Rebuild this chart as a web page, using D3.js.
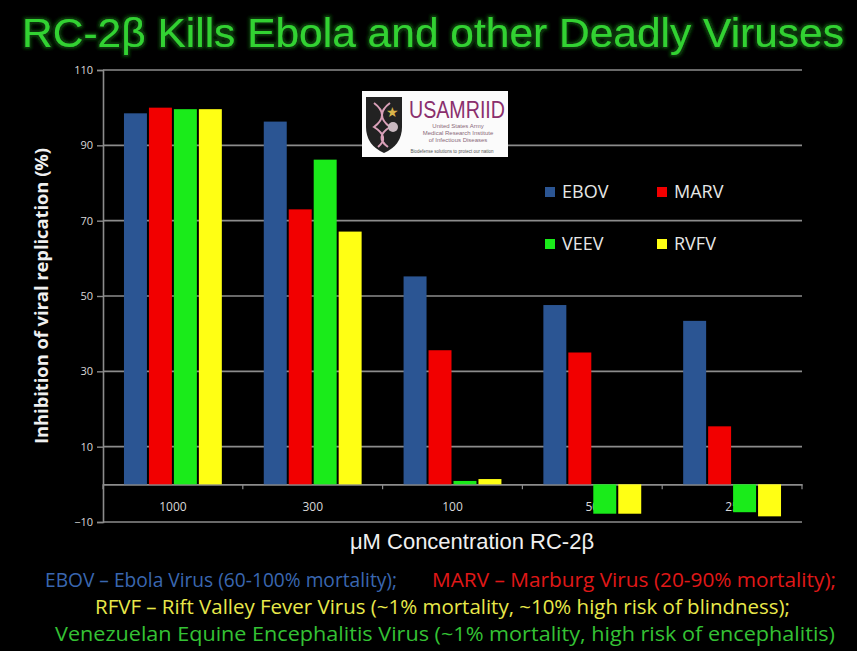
<!DOCTYPE html>
<html><head><meta charset="utf-8">
<script src="https://cdn.jsdelivr.net/npm/d3@7"></script>
<style>body{margin:0;background:#000;} svg{display:block}</style>
</head><body>
<script>
// ---- data ----
const categories = ["1000", "300", "100", "50", "25"];
const seriesNames = ["EBOV", "MARV", "VEEV", "RVFV"];
const EBOV = [98.5, 96.3, 55.2, 47.6, 43.4];
const MARV = [100, 73, 35.6, 35.0, 15.4];
const VEEV = [99.6, 86.2, 0.9, -7.8, -7.4];
const RVFV = [99.6, 67.1, 1.4, -7.8, -8.5];
const yTicks = [-10, 10, 30, 50, 70, 90, 110];
const seriesValues = { EBOV, MARV, VEEV, RVFV };
const colors = { EBOV: "#2b5593", MARV: "#f20000", VEEV: "#1aeb1a", RVFV: "#ffff14" };

const W = 857, H = 651;
const svg = d3.select("body").append("svg").attr("width", W).attr("height", H)
  .style("background", "#000");

const defs = svg.append("defs");
const glow = defs.append("filter").attr("id", "glow").attr("x", "-5%").attr("y", "-20%").attr("width", "110%").attr("height", "140%");
glow.append("feMorphology").attr("in", "SourceAlpha").attr("operator", "dilate").attr("radius", 1.5).attr("result", "d");
glow.append("feGaussianBlur").attr("in", "d").attr("stdDeviation", 1.5).attr("result", "b");
glow.append("feFlood").attr("flood-color", "#0b3d0b");
glow.append("feComposite").attr("in2", "b").attr("operator", "in").attr("result", "g");
const fm = glow.append("feMerge");
fm.append("feMergeNode").attr("in", "g");
fm.append("feMergeNode").attr("in", "SourceGraphic");

// Title
svg.append("text").attr("x", 433).attr("y", 47).attr("text-anchor", "middle")
  .attr("font-family", "Liberation Sans, Arial, sans-serif").attr("font-size", 40)
  .attr("fill", "#33d233").attr("filter", "url(#glow)")
  .attr("textLength", 822).attr("lengthAdjust", "spacingAndGlyphs")
  .text("RC-2β Kills Ebola and other Deadly Viruses");

// scales
const x0 = 103, x1 = 802;
const y = d3.scaleLinear().domain([-10, 110]).range([522, 70]);
const xb = d3.scaleBand().domain(categories).range([x0, x1]).paddingInner(0.3).paddingOuter(0.15);
const xs = d3.scaleBand().domain(seriesNames).range([0, xb.bandwidth()]).paddingInner(0.08);

// gridlines
svg.append("g").selectAll("line").data(yTicks).join("line")
  .attr("x1", x0).attr("x2", x1).attr("y1", d => y(d)).attr("y2", d => y(d))
  .attr("stroke", "#8c8c8c").attr("stroke-width", 1.6);

// y axis
const yAxis = d3.axisLeft(y).tickValues(yTicks).tickSize(6).tickFormat(d3.format("d"));
const ya = svg.append("g").attr("transform", `translate(${x0},0)`).call(yAxis);
ya.select(".domain").attr("stroke", "#8c8c8c").attr("stroke-width", 1.6);
ya.selectAll(".tick line").attr("stroke", "#8c8c8c").attr("stroke-width", 1.4);
ya.selectAll(".tick text").attr("fill", "#d8d8d8").attr("font-size", 11)
  .attr("font-family", "Open Sans, sans-serif").attr("x", -10);

// x axis at zero (drawn before bars so negative bars cover labels as in the reference)
const xAxis = d3.axisBottom(xb).tickSize(0).tickPadding(18);
const xa = svg.append("g").attr("transform", `translate(0,${y(0)})`).call(xAxis);
xa.select(".domain").attr("stroke", "#8c8c8c").attr("stroke-width", 1.6);
xa.selectAll(".tick text").attr("fill", "#d8d8d8").attr("font-size", 12)
  .attr("font-family", "Open Sans, sans-serif");
const bounds = d3.range(categories.length + 1).map(i => x0 + i * xb.step());
xa.append("g").selectAll("line").data(bounds).join("line")
  .attr("x1", d => d).attr("x2", d => d).attr("y1", 0).attr("y2", 5)
  .attr("stroke", "#8c8c8c").attr("stroke-width", 1.2);

// bars
const groups = svg.append("g").selectAll("g").data(categories).join("g")
  .attr("transform", d => `translate(${xb(d)},0)`);
groups.selectAll("rect").data((c, i) => seriesNames.map(s => ({ s, v: seriesValues[s][i] })))
  .join("rect")
  .attr("x", d => xs(d.s)).attr("width", xs.bandwidth())
  .attr("y", d => y(Math.max(0, d.v))).attr("height", d => Math.abs(y(d.v) - y(0)))
  .attr("fill", d => colors[d.s]);

// axis titles
svg.append("text").attr("transform", `translate(48,296) rotate(-90)`)
  .attr("text-anchor", "middle").attr("fill", "#f0f0f0").attr("font-weight", "bold")
  .attr("font-family", "Open Sans, sans-serif").attr("font-size", 18)
  .attr("textLength", 296).attr("lengthAdjust", "spacingAndGlyphs")
  .text("Inhibition of viral replication (%)");
svg.append("text").attr("x", 472).attr("y", 549).attr("text-anchor", "middle")
  .attr("fill", "#f0f0f0").attr("font-family", "Liberation Sans, Arial, sans-serif").attr("font-size", 22)
  .text("μM Concentration RC-2β");

// legend
const legendPos = { EBOV: [545, 187], MARV: [657, 187], VEEV: [545, 239], RVFV: [657, 239] };
const lg = svg.append("g").selectAll("g").data(seriesNames).join("g")
  .attr("transform", d => `translate(${legendPos[d][0]},${legendPos[d][1]})`);
lg.append("rect").attr("width", 10).attr("height", 10).attr("fill", d => colors[d]);
lg.append("text").attr("x", 17).attr("y", 11).attr("fill", "#e6e6e6")
  .attr("font-family", "Open Sans, sans-serif").attr("font-size", 18).text(d => d);

// logo
const logo = svg.append("g").attr("transform", "translate(362,91)");
logo.append("rect").attr("width", 146).attr("height", 66).attr("fill", "#fbfbfb");
logo.append("path").attr("d", "M4,6 L40,6 L40,36 Q40,54 22,62 Q4,54 4,36 Z").attr("fill", "#222");
logo.append("path").attr("d", "M12,12 Q28,24 12,36 Q28,46 16,56 M28,12 Q12,24 28,36 Q12,46 26,56")
  .attr("fill", "none").attr("stroke", "#d9a0b8").attr("stroke-width", 2);
logo.append("text").attr("x", 30).attr("y", 26).attr("text-anchor", "middle").attr("fill", "#d9b44a")
  .attr("font-size", 14).text("★");
logo.append("circle").attr("cx", 31).attr("cy", 36).attr("r", 5).attr("fill", "#c9b9c0");
logo.append("text").attr("x", 95).attr("y", 27).attr("text-anchor", "middle").attr("fill", "#8a2f6d")
  .attr("font-family", "Liberation Sans, Arial, sans-serif").attr("font-size", 24)
  .attr("textLength", 96).attr("lengthAdjust", "spacingAndGlyphs").text("USAMRIID");
["United States Army", "Medical Research Institute", "of Infectious Diseases"].forEach((t, i) => {
  logo.append("text").attr("x", 96).attr("y", 37 + i * 7).attr("text-anchor", "middle")
    .attr("fill", "#8a6a7a").attr("font-family", "Liberation Sans, Arial, sans-serif")
    .attr("font-size", 6).text(t);
});
logo.append("text").attr("x", 90).attr("y", 62).attr("text-anchor", "middle").attr("fill", "#555")
  .attr("font-family", "Liberation Sans, Arial, sans-serif").attr("font-size", 4.5)
  .text("Biodefense solutions to protect our nation");

// footnotes
const foot = [
  { t: "EBOV – Ebola Virus (60-100% mortality);", x: 45, w: 352, y: 587, c: "#3a67b0" },
  { t: "MARV – Marburg  Virus (20-90% mortality);", x: 432, w: 404, y: 587, c: "#e01818" },
  { t: "RFVF – Rift Valley Fever Virus (~1% mortality, ~10% high risk of blindness);", x: 95, w: 695, y: 614, c: "#e8e84a" },
  { t: "Venezuelan Equine Encephalitis Virus (~1% mortality, high risk of encephalitis)", x: 55, w: 780, y: 641, c: "#34c234" }
];
svg.append("g").selectAll("text").data(foot).join("text")
  .attr("x", d => d.x).attr("y", d => d.y).attr("fill", d => d.c)
  .attr("font-family", "Open Sans, sans-serif").attr("font-size", 20)
  .attr("textLength", d => d.w).attr("lengthAdjust", "spacingAndGlyphs")
  .text(d => d.t);
</script>
</body></html>
